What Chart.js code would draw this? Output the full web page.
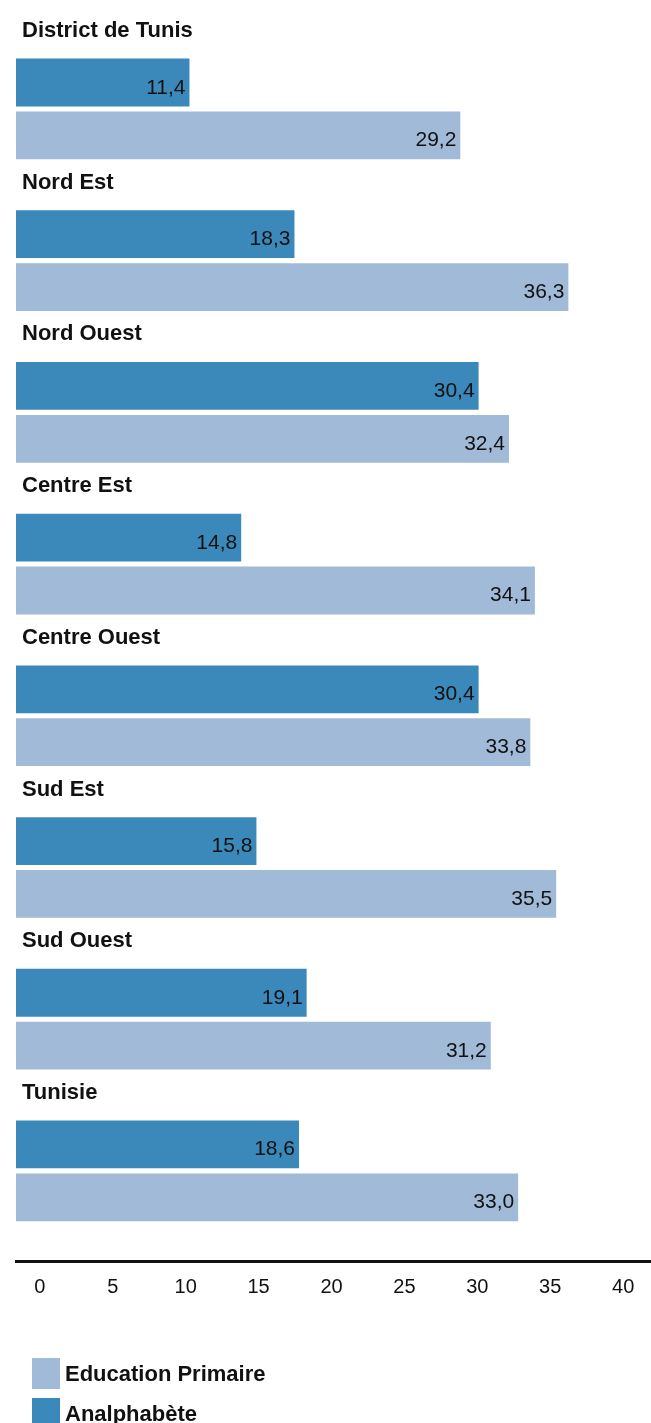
<!DOCTYPE html>
<html lang="fr">
  <head>
    <meta charset="UTF-8" />
    <title>Analphabète / Education Primaire par région</title>
    <style>
      * {
        margin: 0;
        padding: 0;
        box-sizing: border-box;
      }

      body {
        background: #fff;
        overflow: hidden;
        font-family: "Liberation Sans", Arial, sans-serif;
      }

      .wrapper {
        position: relative;
        width: 651px;
        height: 1423px;
      }

      #legend {
        position: absolute;
        left: 32px;
        top: 1358px;
        list-style: none;
      }

      #legend li {
        display: flex;
        align-items: center;
        height: 31px;
        margin-bottom: 9px;
      }

      #legend .box {
        width: 28px;
        height: 31px;
      }

      #legend .text {
        margin-left: 5px;
        font-size: 22px;
        font-weight: bold;
        color: #111;
      }
    </style>
  </head>

  <body>
    <div class="wrapper">
      <canvas id="chart" width="651" height="1423"></canvas>
      <ul id="legend"></ul>
    </div>

    <script src="https://cdn.jsdelivr.net/npm/chart.js@4.4.0/dist/chart.umd.min.js"></script>
    <script>
      // Regions, top to bottom
      const categories = [
        "District de Tunis",
        "Nord Est",
        "Nord Ouest",
        "Centre Est",
        "Centre Ouest",
        "Sud Est",
        "Sud Ouest",
        "Tunisie",
      ];

      // Values in %
      const analphabete = [11.4, 18.3, 30.4, 14.8, 30.4, 15.8, 19.1, 18.6];
      const primaire = [29.2, 36.3, 32.4, 34.1, 33.8, 35.5, 31.2, 33.0];

      // Labels under the axis line
      const tickValues = [0, 5, 10, 15, 20, 25, 30, 35, 40];

      const darkBlue = "#3b88ba";
      const lightBlue = "#a1bad8";

      const fmt = (v) => v.toFixed(1).replace(".", ",");

      // Value written at the end of each bar
      const barValues = {
        id: "barValues",
        afterDatasetsDraw(chart) {
          const ctx = chart.ctx;
          ctx.save();
          ctx.font = '21px "Liberation Sans", Arial, sans-serif';
          ctx.fillStyle = "#111";
          ctx.textAlign = "right";
          ctx.textBaseline = "alphabetic";
          chart.data.datasets.forEach((ds, di) => {
            chart.getDatasetMeta(di).data.forEach((bar, i) => {
              ctx.fillText(fmt(ds.data[i].x), bar.x - 4, bar.y + 11);
            });
          });
          ctx.restore();
        },
      };

      // Legend as a list, one item per line
      const htmlLegend = {
        id: "htmlLegend",
        afterUpdate(chart) {
          const ul = document.getElementById("legend");
          ul.innerHTML = "";
          const items = chart.options.plugins.legend.labels
            .generateLabels(chart)
            .reverse();
          items.forEach((item) => {
            const li = document.createElement("li");
            const box = document.createElement("span");
            box.className = "box";
            box.style.background = item.fillStyle;
            const text = document.createElement("span");
            text.className = "text";
            text.textContent = item.text;
            li.appendChild(box);
            li.appendChild(text);
            ul.appendChild(li);
          });
        },
      };

      const ctx = document.getElementById("chart");

      new Chart(ctx, {
        type: "bar",
        plugins: [barValues, htmlLegend],
        data: {
          datasets: [
            {
              label: "Analphabète",
              data: analphabete.map((v, i) => ({ x: v, y: i })),
              backgroundColor: darkBlue,
            },
            {
              label: "Education Primaire",
              data: primaire.map((v, i) => ({ x: v, y: i })),
              backgroundColor: lightBlue,
            },
          ],
        },
        options: {
          indexAxis: "y",
          responsive: false,
          animation: false,
          categoryPercentage: 0.697,
          barPercentage: 0.904,
          layout: {
            padding: { left: 4, right: 0, top: 0, bottom: 110 },
          },
          plugins: {
            legend: { display: false },
            tooltip: { enabled: false },
          },
          scales: {
            y: {
              type: "linear",
              reverse: true,
              offset: false,
              min: -0.5916,
              max: 7.594,
              grid: { display: false, drawTicks: false },
              border: { display: false },
              afterBuildTicks: (axis) => {
                axis.ticks = categories.map((_, i) => ({ value: i }));
              },
              ticks: {
                mirror: true,
                padding: 6,
                labelOffset: -78,
                autoSkip: false,
                color: "#111",
                font: {
                  family: '"Liberation Sans", Arial, sans-serif',
                  size: 22,
                  weight: "bold",
                },
                callback: (v) => categories[v],
              },
            },
            x: {
              type: "linear",
              display: false,
              min: 0,
              max: 41.73,
            },
            x2: {
              type: "linear",
              position: "bottom",
              min: -1.639,
              max: 41.91,
              grid: { display: false, drawTicks: false },
              border: { display: true, color: "#111", width: 3 },
              afterBuildTicks: (axis) => {
                axis.ticks = tickValues.map((v) => ({ value: v }));
              },
              ticks: {
                padding: 14,
                color: "#111",
                autoSkip: false,
                maxRotation: 0,
                font: {
                  family: '"Liberation Sans", Arial, sans-serif',
                  size: 20,
                },
              },
            },
          },
        },
      });
    </script>
  </body>
</html>
